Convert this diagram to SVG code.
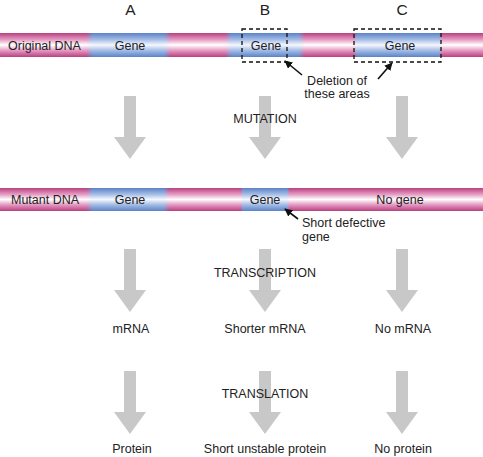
<svg xmlns="http://www.w3.org/2000/svg" width="483" height="457" viewBox="0 0 483 457">
<style>
text{font-family:"Liberation Sans",Arial,sans-serif;font-size:12.5px;fill:#222}
.c{text-anchor:middle}
.col{font-size:15.5px}
.big{fill:#c8c8c8}
.dash{fill:none;stroke:#111;stroke-width:1.3;stroke-dasharray:4 3}
.ptr{stroke:#111;stroke-width:1.6;fill:none;marker-end:url(#ah)}
</style>
<defs>
<linearGradient id="pink" x1="0" y1="0" x2="0" y2="1">
<stop offset="0" stop-color="#b8407e"/>
<stop offset="0.28" stop-color="#e69cc4"/>
<stop offset="0.5" stop-color="#ffffff"/>
<stop offset="0.72" stop-color="#e69cc4"/>
<stop offset="1" stop-color="#b8407e"/>
</linearGradient>
<linearGradient id="blue" x1="0" y1="0" x2="0" y2="1">
<stop offset="0" stop-color="#5b82c8"/>
<stop offset="0.28" stop-color="#a6bee6"/>
<stop offset="0.5" stop-color="#f4f7ff"/>
<stop offset="0.72" stop-color="#a6bee6"/>
<stop offset="1" stop-color="#5b82c8"/>
</linearGradient>
<linearGradient id="hf" x1="0" y1="0" x2="1" y2="0">
<stop offset="0" stop-color="#fff" stop-opacity="0"/>
<stop offset="0.08" stop-color="#fff" stop-opacity="1"/>
<stop offset="0.92" stop-color="#fff" stop-opacity="1"/>
<stop offset="1" stop-color="#fff" stop-opacity="0"/>
</linearGradient>
<linearGradient id="hf2" x1="0" y1="0" x2="1" y2="0">
<stop offset="0" stop-color="#fff" stop-opacity="0.3"/>
<stop offset="0.04" stop-color="#fff" stop-opacity="1"/>
<stop offset="0.96" stop-color="#fff" stop-opacity="1"/>
<stop offset="1" stop-color="#fff" stop-opacity="0.3"/>
</linearGradient>
<mask id="m1" maskContentUnits="objectBoundingBox"><rect x="0" y="0" width="1" height="1" fill="url(#hf)"/></mask>
<mask id="m2" maskContentUnits="objectBoundingBox"><rect x="0" y="0" width="1" height="1" fill="url(#hf2)"/></mask>
<path id="bigArrow" d="M-6,0 H6 V41 H16 L0,63 L-16,41 H-6 Z"/>
<marker id="ah" viewBox="0 0 10 10" refX="9" refY="5" markerWidth="5" markerHeight="5" orient="auto" markerUnits="strokeWidth">
<path d="M0,0 L10,5 L0,10 Z" fill="#111"/>
</marker>
</defs>
<rect width="483" height="457" fill="#fff"/>

<g id="column-labels">
<text class="c col" x="130.5" y="15">A</text>
<text class="c col" x="265" y="15">B</text>
<text class="c col" x="402" y="15">C</text>
</g>

<g id="original-dna">
<rect x="0" y="33" width="483" height="24" fill="url(#pink)"/>
<rect x="86" y="33" width="85" height="24" fill="url(#blue)" mask="url(#m1)"/>
<rect x="225" y="33" width="80" height="24" fill="url(#blue)" mask="url(#m1)"/>
<rect x="354" y="33" width="88" height="24" fill="url(#blue)" mask="url(#m2)"/>
<text x="8" y="49.5">Original DNA</text>
<text class="c" x="130" y="49.5">Gene</text>
<text class="c" x="266" y="49.5">Gene</text>
<text class="c" x="400" y="49.5">Gene</text>
</g>

<g id="deletion-boxes">
<rect class="dash" x="242" y="29" width="45" height="33"/>
<rect class="dash" x="354" y="29" width="87" height="33"/>
</g>

<g id="deletion-label">
<text class="c" x="337" y="85">Deletion of</text>
<text class="c" x="337" y="98">these areas</text>
</g>

<g id="mutant-dna">
<rect x="0" y="188" width="483" height="23" fill="url(#pink)"/>
<rect x="86" y="188" width="84" height="23" fill="url(#blue)" mask="url(#m1)"/>
<rect x="241" y="188" width="48" height="23" fill="url(#blue)" mask="url(#m2)"/>
<text x="11" y="204">Mutant DNA</text>
<text class="c" x="130" y="204">Gene</text>
<text class="c" x="265" y="204">Gene</text>
<text class="c" x="400" y="204">No gene</text>
</g>

<g id="short-defective-label">
<text x="302" y="227">Short defective</text>
<text x="302" y="241">gene</text>
</g>

<g id="connectors">
<use href="#bigArrow" class="big" transform="translate(130,96)"/>
<use href="#bigArrow" class="big" transform="translate(265,96)"/>
<use href="#bigArrow" class="big" transform="translate(402,96)"/>
<use href="#bigArrow" class="big" transform="translate(130,249)"/>
<use href="#bigArrow" class="big" transform="translate(265,249)"/>
<use href="#bigArrow" class="big" transform="translate(402,249)"/>
<use href="#bigArrow" class="big" transform="translate(130,371)"/>
<use href="#bigArrow" class="big" transform="translate(265,371)"/>
<use href="#bigArrow" class="big" transform="translate(402,371)"/>
<line class="ptr" x1="302" y1="75" x2="285" y2="61"/>
<line class="ptr" x1="378" y1="79" x2="392" y2="63"/>
<line class="ptr" x1="298" y1="219" x2="285" y2="209"/>
</g>

<g id="step-labels">
<text class="c" x="265" y="123">MUTATION</text>
<text class="c" x="265" y="277">TRANSCRIPTION</text>
<text class="c" x="265" y="398">TRANSLATION</text>
</g>

<g id="mrna-row">
<text class="c" x="131" y="333">mRNA</text>
<text class="c" x="265" y="333">Shorter mRNA</text>
<text class="c" x="403" y="333">No mRNA</text>
</g>

<g id="protein-row">
<text class="c" x="132" y="453">Protein</text>
<text class="c" x="265" y="453">Short unstable protein</text>
<text class="c" x="403" y="453">No protein</text>
</g>
</svg>
